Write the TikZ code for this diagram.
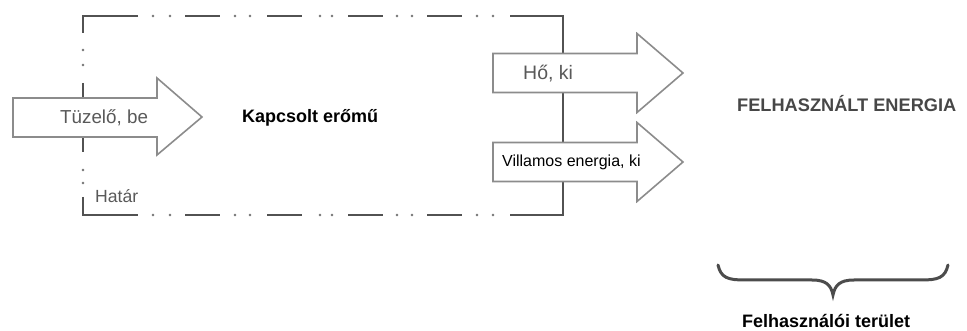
\documentclass[tikz,border=0pt]{standalone}
\usepackage{fontspec}
\setmainfont{Liberation Sans}
\usepackage{tikz}

\begin{document}
\begin{tikzpicture}[x=1pt,y=-1pt,
	boundary/.style={draw=black!68,line width=2.8pt},
	flowarrow/.style={draw=black!45,fill=white,line width=1.6pt,line join=miter},
	lbl/.style={inner sep=0pt,anchor=base west}]
\useasboundingbox (0,0) rectangle (967,331);
% rendszerhatar
\draw[boundary] (138,16) -- (83,16) -- (83,33);
\draw[boundary] (83,197) -- (83,215) -- (138,215);
\draw[boundary] (83,83) -- (83,152);
\draw[boundary] (510,16) -- (563,16) -- (563,215) -- (510,215);
\foreach \x in {185,267,348,427}
	\draw[boundary] (\x,16) -- ++(35,0) (\x,215) -- ++(35,0);
\foreach \x in {153,170,235,250,320,332,397,412,477,493}
	\filldraw[black!55] (\x,16) circle (1.2pt) (\x,215) circle (1.2pt);
\foreach \y in {50,65,170,183}
	\filldraw[black!55] (83,\y) circle (1.2pt);
% nyilak
\draw[flowarrow] (13,98) -- (157,98) -- (157,78) -- (202,117) -- (157,155) -- (157,137) -- (13,137) -- cycle;
\foreach \y in {73,162}
	\draw[flowarrow] (493,\y-19.5) -- (637,\y-19.5) -- (637,\y-39.5) -- (683,\y) -- (637,\y+39.5) -- (637,\y+19.5) -- (493,\y+19.5) -- cycle;
% feliratok
\node[lbl,text=black!65,font=\fontsize{18.8}{20}\selectfont] (tuzelo) at (60,124) {Tüzelő, be};
\node[lbl,font=\bfseries\fontsize{18}{20}\selectfont] (eromu) at (242,122.5) {Kapcsolt erőmű};
\node[lbl,text=black!65,font=\fontsize{19.5}{20}\selectfont] (ho) at (523,80) {Hő, ki};
\node[lbl,font=\fontsize{16}{18}\selectfont] (villamos) at (502,167) {Villamos energia, ki};
\node[lbl,text=black!72,font=\bfseries\fontsize{18.2}{20}\selectfont] (felhasznalt) at (737,112) {FELHASZNÁLT ENERGIA};
\node[lbl,text=black!65,font=\fontsize{17.6}{20}\selectfont] (hatar) at (95,203) {Határ};
\node[lbl,font=\bfseries\fontsize{18}{20}\selectfont] (terulet) at (742,327.5) {Felhasználói terület};
% kapcsos zarojel
\draw[black!70,line width=3pt,line cap=round] (718,265) .. controls (721,278) and (728,280) .. (745,280) -- (812,280) .. controls (826,280) and (831,285) .. (833,295) .. controls (835,285) and (840,280) .. (854,280) -- (921,280) .. controls (938,280) and (945,278) .. (948,265);
\end{tikzpicture}
\end{document}
